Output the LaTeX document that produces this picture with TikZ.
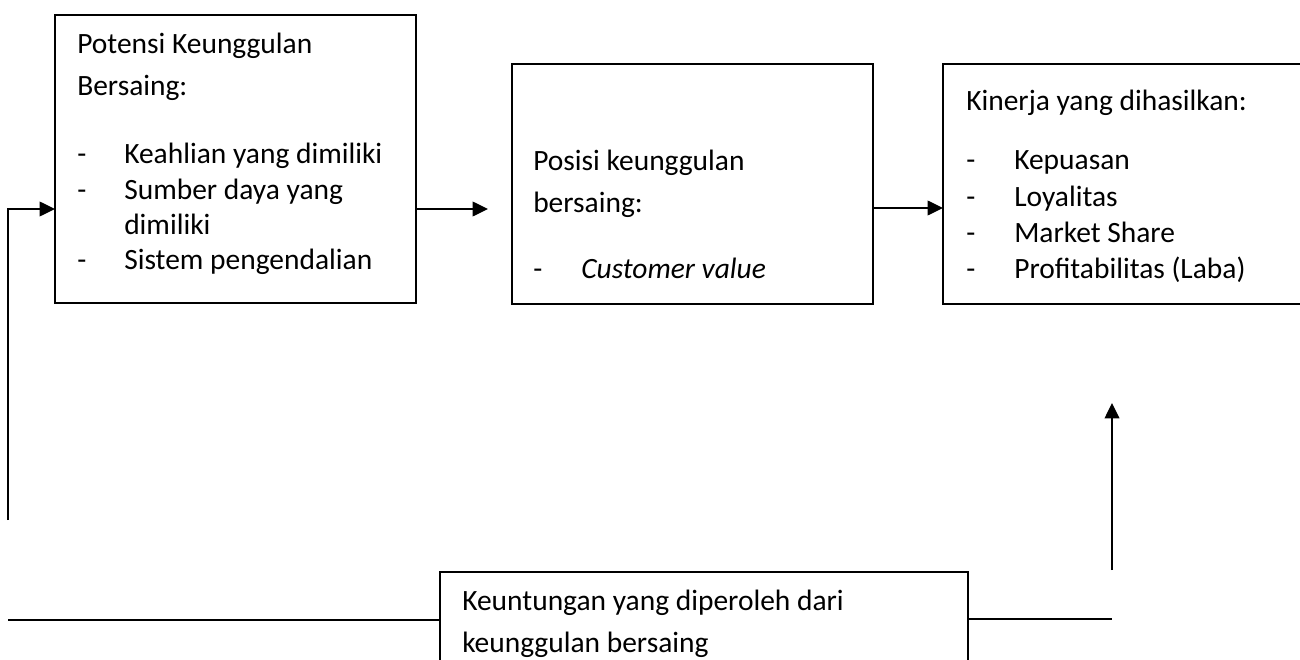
\documentclass[tikz,border=0pt]{standalone}
\usepackage{fontspec}
\setmainfont{Carlito}
\usetikzlibrary{arrows.meta,fit}
\begin{document}
\begin{tikzpicture}[x=0.75pt,y=-0.75pt,
  box/.style={draw, line width=1.1pt, inner sep=0pt},
  txt/.style={anchor=base west, inner sep=0pt, font=\fontsize{22.1}{26}\selectfont},
  arr/.style={line width=1.1pt, -{Triangle[length=11.5pt,width=11pt]}},
  ln/.style={line width=1.1pt}]
\useasboundingbox (0,0) rectangle (1300,660);
\clip (0,0) rectangle (1300,660);
\fill[white] (0,0) rectangle (1300,660);
% box corners
\coordinate (p1a) at (55,15);   \coordinate (p1b) at (416,303);
\coordinate (p2a) at (512,64);  \coordinate (p2b) at (873,304);
\coordinate (p3a) at (943,64);  \coordinate (p3b) at (1320,304);
\coordinate (p4a) at (440,572); \coordinate (p4b) at (968,680);
\node[box, fit=(p1a)(p1b)] (b1) {};
\node[box, fit=(p2a)(p2b)] (b2) {};
\node[box, fit=(p3a)(p3b)] (b3) {};
\node[box, fit=(p4a)(p4b)] (b4) {};
% texts box 1
\node[txt] (t1a) at (77,54) {Potensi Keunggulan};
\node[txt] (t1b) at (77,95) {Bersaing:};
\node[txt] (d1a) at (77,163) {-};
\node[txt] (t1c) at (124,163) {Keahlian yang dimiliki};
\node[txt] (d1b) at (77,199) {-};
\node[txt] (t1d) at (124,199) {Sumber daya yang};
\node[txt] (t1e) at (124,234) {dimiliki};
\node[txt] (d1c) at (77,269) {-};
\node[txt] (t1f) at (124,269) {Sistem pengendalian};
% texts box 2
\node[txt] (t2a) at (533,170) {Posisi keunggulan};
\node[txt] (t2b) at (533,212) {bersaing:};
\node[txt] (d2a) at (533,278) {-};
\node[txt] (t2c) at (581,278) {\itshape Customer value};
% texts box 3
\node[txt] (t3a) at (966,111) {Kinerja yang dihasilkan:};
\node[txt] (d3a) at (966,169) {-};
\node[txt] (t3b) at (1014,169) {Kepuasan};
\node[txt] (d3b) at (966,206) {-};
\node[txt] (t3c) at (1014,206) {Loyalitas};
\node[txt] (d3c) at (966,242) {-};
\node[txt] (t3d) at (1014,242) {Market Share};
\node[txt] (d3d) at (966,278) {-};
\node[txt] (t3e) at (1014,278) {Profitabilitas (Laba)};
% texts box 4
\node[txt] (t4a) at (462,610) {Keuntungan yang diperoleh dari};
\node[txt] (t4b) at (462,652) {keunggulan bersaing};
% connectors
\coordinate (e12) at (488,209);
\coordinate (s12) at (416,209);
\coordinate (s23) at (873,208);
\coordinate (e23) at (943,208);
\coordinate (fbL) at (8,520);
\coordinate (in1) at (55,209);
\coordinate (lnL) at (8,620);
\coordinate (in4L) at (440,620);
\coordinate (out4R) at (968,619);
\coordinate (lnR) at (1112,619);
\coordinate (upS) at (1112,570);
\coordinate (upE) at (1112,403);
\draw[arr] (s12) -- (e12);
\draw[arr] (s23) -- (e23);
\draw[arr] (fbL) |- (in1);
\draw[ln] (lnL) -- (in4L);
\draw[ln] (out4R) -- (lnR);
\draw[arr] (upS) -- (upE);
\end{tikzpicture}
\end{document}
